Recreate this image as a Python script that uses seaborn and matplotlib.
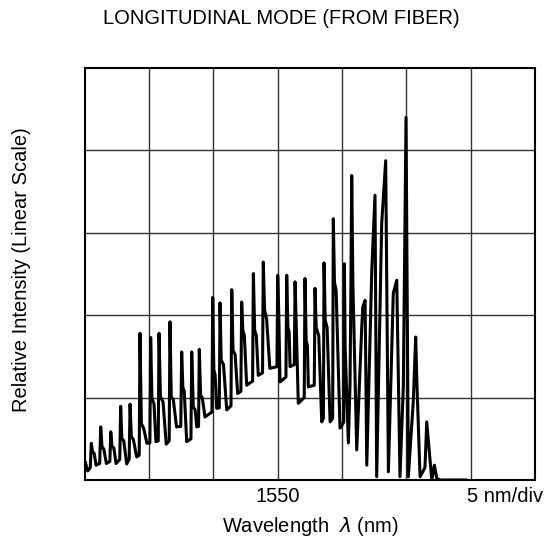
import matplotlib
matplotlib.use("Agg")
import matplotlib.pyplot as plt
import seaborn as sns
import pandas as pd

# Spectrum trace vertices (wavelength in nm, relative intensity 0-100)
wavelength_nm = [
    1535.05, 1535.25,
    1535.45, 1535.53, 1535.62, 1535.75, 1535.90,
    1536.18, 1536.26, 1536.36, 1536.50, 1536.70,
    1536.97, 1537.04, 1537.14, 1537.28, 1537.45,
    1537.74, 1537.81, 1537.90, 1538.05, 1538.28,
    1538.47, 1538.54, 1538.64, 1538.80, 1539.05,
    1539.25, 1539.31, 1539.42, 1539.60, 1539.85,
    1540.08, 1540.14, 1540.24, 1540.40, 1540.55,
    1540.73, 1540.79, 1540.90, 1541.10, 1541.35,
    1541.58, 1541.64, 1541.74, 1541.90, 1542.15,
    1542.48, 1542.55, 1542.64, 1542.75, 1542.94,
    1543.27, 1543.33, 1543.45, 1543.60, 1543.72,
    1543.86, 1543.92, 1544.02, 1544.15, 1544.36,
    1544.90, 1544.96, 1545.05, 1545.15, 1545.27,
    1545.47, 1545.53, 1545.62, 1545.80, 1546.05,
    1546.38, 1546.44, 1546.54, 1546.70, 1546.90,
    1547.15, 1547.21, 1547.30, 1547.42, 1547.60,
    1548.06, 1548.12, 1548.22, 1548.35, 1548.50,
    1548.83, 1548.89, 1548.99, 1549.15, 1549.40,
    1549.95, 1550.01, 1550.10, 1550.19,
    1550.65, 1550.71, 1550.80, 1550.90, 1550.97,
    1551.30, 1551.36, 1551.46, 1551.61,
    1552.07, 1552.13, 1552.22, 1552.32, 1552.39,
    1552.85, 1552.91, 1553.00, 1553.20, 1553.43,
    1553.56, 1553.61, 1553.70, 1553.85, 1554.08,
    1554.28, 1554.33, 1554.42, 1554.55, 1554.85,
    1555.14, 1555.19, 1555.25, 1555.50,
    1555.63, 1555.70, 1555.76, 1555.85, 1556.15,
    1556.54, 1556.62, 1556.80, 1556.93,
    1557.32, 1557.57, 1557.70,
    1558.09, 1558.40, 1558.61,
    1558.99, 1559.26, 1559.51,
    1559.77, 1559.98, 1560.16,
    1560.55, 1560.73, 1560.81, 1561.07,
    1561.45, 1561.59, 1561.98,
    1562.18, 1562.37,
    1562.62, 1564.70,
]
intensity = [
    4.5, 2.2,
    3.0, 8.9, 6.9, 6.5, 3.6,
    4.0, 12.9, 8.1, 7.5, 4.0,
    4.5, 11.7, 8.1, 7.8, 4.0,
    5.0, 17.9, 10.1, 9.5, 3.9,
    5.0, 18.4, 10.5, 9.8, 5.6,
    6.0, 35.6, 13.7, 12.5, 8.9,
    9.0, 34.6, 19.8, 18.5, 9.3,
    9.5, 35.6, 20.2, 19.0, 8.7,
    9.5, 38.4, 20.2, 19.5, 12.9,
    13.0, 31.1, 22.6, 21.5, 9.3,
    10.0, 31.1, 17.8, 17.0, 12.9,
    13.0, 31.7, 20.6, 20.0, 15.3,
    16.5, 44.3, 26.7, 25.5, 17.4,
    17.5, 43.0, 29.1, 28.0, 17.0,
    18.0, 46.2, 31.5, 30.5, 21.0,
    21.5, 43.2, 36.4, 35.0, 23.0,
    24.0, 50.1, 36.4, 35.0, 25.4,
    26.0, 52.9, 41.2, 39.0, 27.1,
    27.5, 49.7, 39.6, 23.8,
    25.0, 49.7, 37.1, 36.0, 27.5,
    28.0, 48.1, 36.4, 18.6,
    20.0, 48.9, 33.9, 32.5, 22.6,
    23.0, 46.5, 37.1, 35.0, 14.1,
    15.0, 52.7, 38.8, 37.0, 14.1,
    15.0, 63.4, 48.0, 46.0, 12.6,
    14.0, 52.5, 32.3, 9.0,
    23.5, 48.0, 73.9, 48.0, 7.3,
    37.1, 42.0, 43.6, 3.6,
    50.9, 69.1, 0.8,
    62.3, 77.5, 2.0,
    45.3, 48.5, 0.8,
    22.6, 88.0, 0.8,
    19.4, 34.7, 25.0, 0.8,
    3.0, 14.1, 0.0,
    3.6, 0.4,
    0.0, 0.0,
]

grid_wavelengths = [1540, 1545, 1550, 1555, 1560, 1565]
grid_wavelength_labels = ["", "", "1550", "", "", ""]
grid_intensity = [20, 40, 60, 80]

title_text = "LONGITUDINAL MODE (FROM FIBER)"
xlabel_text = "Wavelength  $\\lambda$ (nm)"
ylabel_text = "Relative Intensity (Linear Scale)"
scale_text = "5 nm/div"

df = pd.DataFrame({"wavelength": wavelength_nm, "intensity": intensity})

sns.set_theme(style="white")
plt.rcParams["font.family"] = ["Liberation Sans", "DejaVu Sans"]
plt.rcParams["mathtext.fontset"] = "dejavusans"

FS = 14.5

fig = plt.figure(figsize=(5.58, 5.48), dpi=100)
fig.patch.set_facecolor("white")
ax = fig.add_axes([84.5 / 558, 68 / 548, 450.5 / 558, 412 / 548])

sns.lineplot(data=df, x="wavelength", y="intensity", ax=ax, color="black",
             linewidth=2.2, sort=False, estimator=None, zorder=3)

ax.set_xlim(1535, 1570)
ax.set_ylim(0, 100)
ax.set_xticks(grid_wavelengths)
ax.set_xticklabels(grid_wavelength_labels, fontsize=FS)
ax.set_yticks(grid_intensity)
ax.set_yticklabels([])
ax.tick_params(axis="both", length=0, pad=5, colors="black")
ax.grid(True, color="#333333", linewidth=1.0)
ax.set_xlabel("")
ax.set_ylabel("")
for s in ax.spines.values():
    s.set_color("black")
    s.set_linewidth(1.5)
    s.set_visible(True)

ax.text(0.933, 1 - (496 - 68) / 412, scale_text, transform=ax.transAxes, ha="center", va="center",
        fontsize=FS, color="black")
fig.text(281 / 558, 1 - 18 / 548, title_text, ha="center", va="center", fontsize=FS, color="black")
fig.text(310 / 558, 1 - 527 / 548, xlabel_text, ha="center", va="center", fontsize=FS, color="black")
fig.text(22 / 558, 1 - 270 / 548, ylabel_text, ha="center", va="center", rotation=90,
         fontsize=FS, color="black")

fig.savefig("out.png", dpi=100, facecolor="white")
